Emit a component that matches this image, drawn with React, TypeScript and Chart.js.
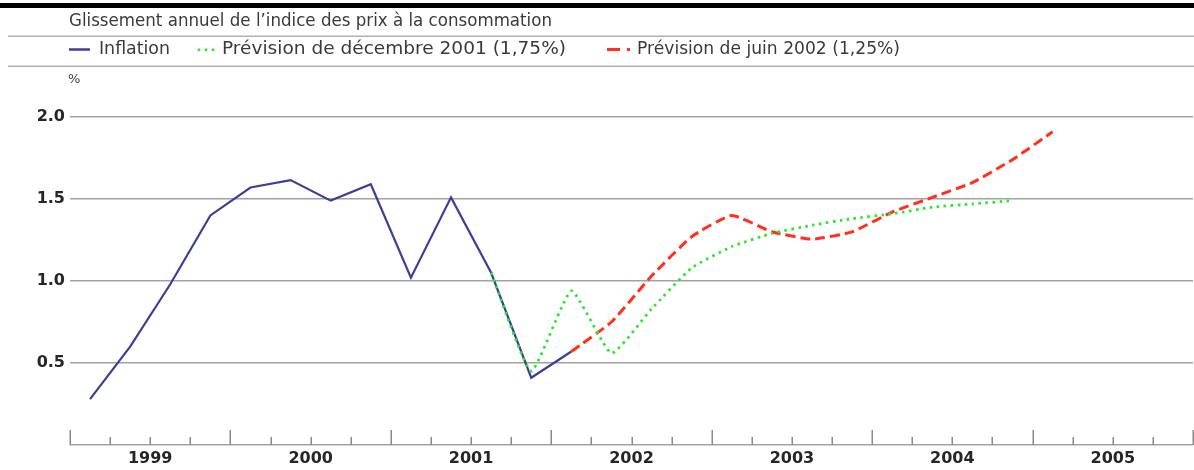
import React, { useEffect, useRef } from 'react';
import { Chart, registerables } from 'chart.js';

Chart.register(...registerables);

// ---- Data ----
const years = ['1999', '2000', '2001', '2002', '2003', '2004', '2005'];
const quartersPerYear = 4;

// Inflation, quarterly, 1999 T1 – 2002 T1
const inflation = [0.28, 0.6, 0.98, 1.4, 1.57, 1.615, 1.49, 1.59, 1.02, 1.51, 1.05, 0.41, 0.57];
const inflationStart = 0; // 1999 T1

// Prévision de décembre 2001, 2001 T3 – 2004 T4
const previsionDec2001 = [1.05, 0.45, 0.94, 0.56, 0.83, 1.08, 1.21, 1.29, 1.34, 1.38, 1.41, 1.45, 1.47, 1.49];
const previsionDec2001Start = 10; // 2001 T3

// Prévision de juin 2002, 2002 T1 – 2005 T1
const previsionJuin2002 = [0.57, 0.75, 1.03, 1.27, 1.4, 1.3, 1.255, 1.3, 1.42, 1.51, 1.6, 1.74, 1.91];
const previsionJuin2002Start = 12; // 2002 T1

const yTickValues = [0, 0.5, 1.0, 1.5, 2.0];

const titleText = 'Glissement annuel de l’indice des prix à la consommation';
const seriesNames = ['Inflation', 'Prévision de décembre 2001 (1,75%)', 'Prévision de juin 2002 (1,25%)'];
const unitLabel = '%';

// ---- Styles ----
const FONT = '"DejaVu Sans", sans-serif';
const BLUE = '#3b3f98';
const GREEN = '#2fe62f';
const RED = '#ff3020';
const GRID = '#a2a2a2';
const TEXT = '#3a3a3a';
const AXIS_TEXT = '#262626';

const toPoints = (values: number[], start: number) =>
  values.map((v, i) => ({ x: start + i, y: v }));

// draw text from x0, stretched horizontally to end at x1
function fitText(ctx: CanvasRenderingContext2D, text: string, x0: number, x1: number, y: number) {
  const w = ctx.measureText(text).width;
  const sx = (x1 - x0) / w;
  ctx.save();
  ctx.translate(x0, y);
  ctx.scale(sx, 1);
  ctx.fillText(text, 0, 0);
  ctx.restore();
}

const headerPlugin = {
  id: 'header',
  afterDraw(chart: any) {
    const ctx = chart.ctx as CanvasRenderingContext2D;
    const w = chart.width;
    ctx.save();
    // top rules
    ctx.fillStyle = '#000';
    ctx.fillRect(0, 3, w, 5);
    ctx.fillStyle = '#b0b0b0';
    ctx.fillRect(8, 35.5, w - 8, 1.5);
    ctx.fillRect(8, 65.5, w - 8, 1.5);

    ctx.textBaseline = 'middle';
    ctx.textAlign = 'left';
    ctx.fillStyle = TEXT;
    ctx.font = `17px ${FONT}`;
    fitText(ctx, titleText, 69, 552, 22);

    // legend: Inflation
    ctx.strokeStyle = BLUE;
    ctx.lineWidth = 2.5;
    ctx.beginPath();
    ctx.moveTo(69, 49.5);
    ctx.lineTo(90, 49.5);
    ctx.stroke();
    ctx.fillStyle = TEXT;
    fitText(ctx, seriesNames[0], 99, 170, 50);

    // legend: green dotted
    ctx.fillStyle = GREEN;
    [199, 206, 213].forEach((x) => ctx.fillRect(x - 1.3, 48.5, 2.6, 2.6));
    ctx.fillStyle = TEXT;
    fitText(ctx, seriesNames[1], 222, 566, 50);

    // legend: red dash-dot
    ctx.fillStyle = RED;
    ctx.fillRect(607, 48, 13, 3);
    ctx.fillRect(627, 48, 3, 3);
    ctx.fillStyle = TEXT;
    fitText(ctx, seriesNames[2], 637, 900, 50);

    // unit
    ctx.font = `13px ${FONT}`;
    ctx.fillStyle = '#444';
    ctx.fillText(unitLabel, 68, 80);

    // x-axis tick marks (upward), at quarter boundaries
    const xs = chart.scales.x;
    const bottom = chart.chartArea.bottom;
    const n = years.length * quartersPerYear;
    ctx.strokeStyle = '#8a8a8a';
    ctx.lineWidth = 1.5;
    for (let k = 0; k <= n; k++) {
      const px = Math.round(xs.getPixelForValue(k - 0.5)) + 0.25;
      const len = k % quartersPerYear === 0 ? 15 : 8;
      ctx.beginPath();
      ctx.moveTo(px, bottom);
      ctx.lineTo(px, bottom - len);
      ctx.stroke();
    }
    ctx.restore();
  },
};

export default function App() {
  const ref = useRef<HTMLCanvasElement | null>(null);

  useEffect(() => {
    if (!ref.current) return;
    const nQuarters = years.length * quartersPerYear;
    const chart = new Chart(ref.current, {
      type: 'line',
      data: {
        datasets: [
          {
            label: seriesNames[1],
            data: toPoints(previsionDec2001, previsionDec2001Start),
            borderColor: GREEN,
            borderWidth: 2.8,
            borderDash: [2.6, 4.4],
            pointRadius: 0,
            tension: 0.15,
            fill: false,
          },
          {
            label: seriesNames[2],
            data: toPoints(previsionJuin2002, previsionJuin2002Start),
            borderColor: RED,
            borderWidth: 3,
            borderDash: [10, 5],
            pointRadius: 0,
            tension: 0.15,
            fill: false,
          },
          {
            label: seriesNames[0],
            data: toPoints(inflation, inflationStart),
            borderColor: BLUE,
            borderWidth: 2.2,
            pointRadius: 0,
            tension: 0,
            fill: false,
          },
        ],
      },
      options: {
        responsive: false,
        animation: false,
        events: [],
        layout: { padding: { top: 117, left: 0, right: 1, bottom: 0 } },
        plugins: {
          legend: { display: false },
          tooltip: { enabled: false },
          title: { display: false },
        },
        scales: {
          x: {
            type: 'linear',
            min: -0.5,
            max: nQuarters - 0.5,
            afterBuildTicks: (s: any) => {
              s.ticks = years.map((_, i) => ({ value: i * quartersPerYear + 1.5 }));
            },
            afterFit: (s: any) => {
              s.height = 25;
            },
            ticks: {
              autoSkip: false,
              maxRotation: 0,
              padding: 4,
              color: AXIS_TEXT,
              font: { family: FONT, size: 16, weight: 'bold' },
              callback: (_v: any, i: number) => years[i],
            },
            grid: { display: false, drawTicks: false },
            border: { display: false },
          },
          y: {
            min: 0,
            max: 2,
            afterBuildTicks: (s: any) => {
              s.ticks = yTickValues.map((v) => ({ value: v }));
            },
            afterFit: (s: any) => {
              s.width = 70;
            },
            ticks: {
              padding: 5,
              color: AXIS_TEXT,
              font: { family: FONT, size: 16, weight: 'bold' },
              callback: (v: any) => (Number(v) === 0 ? '' : Number(v).toFixed(1)),
            },
            grid: { color: GRID, lineWidth: 1.5, drawTicks: false },
            border: { display: false },
          },
        },
      },
      plugins: [headerPlugin],
    } as any);
    return () => chart.destroy();
  }, []);

  return (
    <div style={{ position: 'absolute', left: 0, top: 0, width: 1194, height: 470, background: '#fff' }}>
      <canvas ref={ref} width={1194} height={470} style={{ display: 'block', width: 1194, height: 470 }} />
    </div>
  );
}
